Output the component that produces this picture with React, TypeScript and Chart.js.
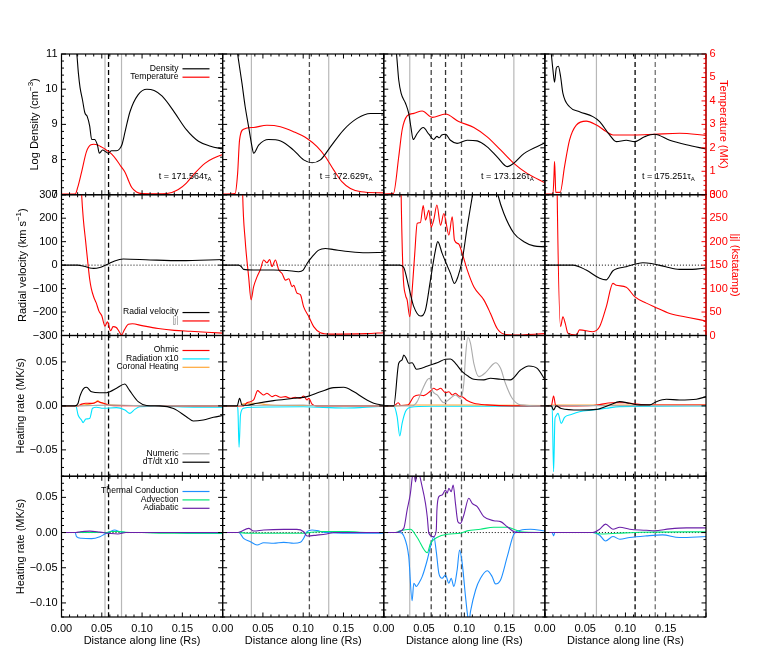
import React, { useEffect, useRef } from 'react';
import { Chart, registerables } from 'chart.js';

Chart.register(...registerables);

// ---------------- DATA ----------------
// x = distance along line (Rs), pairs [x, value]
const times = ['171.564', '172.629', '173.126', '175.251'];

// Row 1: log density (cm^-3) and temperature (MK)
const dens1 = [[0,12.5],[0.015,11.6],[0.019,11.0],[0.021,10.45],[0.023,10.05],[0.026,9.7],[0.029,9.33],[0.032,9.22],[0.035,8.95],[0.0375,8.57],[0.041,8.57],[0.0445,8.42],[0.047,8.18],[0.051,8.27],[0.055,8.22],[0.058,8.18],[0.062,8.25],[0.068,8.25],[0.072,8.3],[0.075,8.42],[0.079,8.8],[0.085,9.36],[0.095,9.84],[0.106,10.0],[0.115,9.96],[0.125,9.8],[0.14,9.35],[0.155,8.85],[0.17,8.52],[0.185,8.38],[0.2,8.3]];
const temp1 = [[0,0.03],[0.017,0.03],[0.02,0.3],[0.025,0.98],[0.031,1.84],[0.0365,2.13],[0.04,2.15],[0.045,2.12],[0.05,2.03],[0.056,1.9],[0.062,1.74],[0.068,1.5],[0.074,1.2],[0.079,0.95],[0.083,0.62],[0.087,0.32],[0.093,0.12],[0.1,0.05],[0.125,0.04],[0.137,0.1],[0.145,0.22],[0.155,0.5],[0.165,0.9],[0.178,1.34],[0.19,1.58],[0.2,1.72]];
const dens2 = [[0,13],[0.015,11.5],[0.0186,11.0],[0.024,10.17],[0.028,9.5],[0.0323,8.93],[0.0365,8.36],[0.0385,8.18],[0.0447,8.41],[0.057,8.57],[0.072,8.53],[0.088,8.27],[0.1006,7.99],[0.111,7.91],[0.1214,7.99],[0.1338,8.36],[0.15,8.84],[0.167,9.17],[0.1835,9.31],[0.2,9.31]];
const temp2 = [[0,0.03],[0.0155,0.05],[0.0186,0.9],[0.021,2.33],[0.026,2.79],[0.0385,2.87],[0.055,2.96],[0.0717,2.9],[0.088,2.69],[0.1048,2.4],[0.1172,2.05],[0.1276,1.62],[0.138,1.05],[0.148,0.56],[0.1586,0.27],[0.172,0.13],[0.2,0.08]];
const dens3 = [[0,13],[0.0158,11.0],[0.0186,10.26],[0.0216,9.88],[0.027,9.6],[0.031,9.31],[0.034,8.88],[0.0365,8.57],[0.0415,8.74],[0.049,8.91],[0.056,8.72],[0.062,8.57],[0.066,8.66],[0.069,8.62],[0.072,8.7],[0.0766,8.72],[0.0828,8.55],[0.091,8.46],[0.1035,8.55],[0.116,8.53],[0.1284,8.36],[0.141,8.07],[0.1533,7.8],[0.1615,7.9],[0.174,8.17],[0.2,8.47]];
const temp3 = [[0,0.03],[0.012,0.05],[0.0186,1.62],[0.0228,2.76],[0.029,3.36],[0.0373,3.47],[0.0477,3.57],[0.06,3.3],[0.0766,3.44],[0.093,3.12],[0.1118,2.87],[0.1284,2.47],[0.145,1.91],[0.1615,1.34],[0.178,0.91],[0.2,0.51]];
const dens4 = [[0,13],[0.008,11.0],[0.01,10.55],[0.012,10.2],[0.0142,10.6],[0.0167,10.65],[0.0195,10.36],[0.0224,9.88],[0.0306,9.5],[0.043,9.36],[0.0596,9.22],[0.068,9.08],[0.0803,8.7],[0.0886,8.51],[0.101,8.55],[0.1114,8.51],[0.1238,8.65],[0.136,8.72],[0.155,8.55],[0.1756,8.42],[0.2,8.3]];
const temp4 = [[0,0.03],[0.01,0.03],[0.0113,0.8],[0.012,1.41],[0.0128,0.8],[0.0135,0.1],[0.019,0.1],[0.0244,1.2],[0.0306,2.33],[0.039,2.97],[0.0513,3.14],[0.064,2.97],[0.0762,2.69],[0.0845,2.55],[0.1114,2.55],[0.136,2.58],[0.1673,2.62],[0.2,2.53]];

// Row 2: radial velocity (km/s) and |j| (kstatamp)
const vel1 = [[0,0],[0.02,0],[0.028,-5],[0.035,-12],[0.04,-14],[0.0476,-10],[0.053,-3],[0.058,5],[0.066,18],[0.0766,26],[0.11,22],[0.148,19],[0.2,24]];
const curr1 = [[0.0,900],[0.02,500],[0.025,300],[0.027,250],[0.03,200],[0.033,150],[0.035,120],[0.037,100],[0.04,82],[0.043,70],[0.0465,52],[0.05,42],[0.054,20],[0.057,29],[0.061,10],[0.064,19],[0.068,17],[0.071,10],[0.0745,1],[0.078,12],[0.083,24],[0.088,25],[0.1,21],[0.12,15],[0.14,11],[0.16,9],[0.18,7],[0.2,5]];
const vel2 = [[0,0],[0.02,0],[0.023,-6],[0.026,-18],[0.0385,-21],[0.0634,-21],[0.08,-23],[0.0944,-28],[0.1,-21],[0.1048,7],[0.111,35],[0.1193,64],[0.1276,71],[0.138,66],[0.1586,57],[0.178,53],[0.2,54]];
const curr2 = [[0.0,900],[0.02,800],[0.0249,300],[0.028,203],[0.0323,125],[0.0353,76],[0.0385,104],[0.0427,125],[0.0468,140],[0.051,161],[0.055,155],[0.0584,162],[0.0613,147],[0.0655,161],[0.0696,140],[0.0738,132],[0.078,118],[0.0821,121],[0.0862,104],[0.0882,107],[0.0924,90],[0.0965,87],[0.1006,61],[0.107,40],[0.113,19],[0.1214,6],[0.1338,3],[0.178,4],[0.2,6]];
const vel3 = [[0,0],[0.02,0],[0.0248,-10],[0.031,-92],[0.0373,-177],[0.0456,-217],[0.0518,-191],[0.058,-63],[0.0642,64],[0.067,100],[0.0725,50],[0.0766,15],[0.0828,-35],[0.0878,-78],[0.092,-50],[0.0974,21],[0.1036,163],[0.1098,291],[0.115,400],[0.125,450],[0.135,400],[0.1416,300],[0.149,221],[0.1615,136],[0.174,100],[0.1863,82],[0.2,78]];
const curr3 = [[0.0,900],[0.018,800],[0.0216,300],[0.024,132],[0.027,86],[0.029,76],[0.0323,40],[0.035,90],[0.0385,175],[0.0415,239],[0.0455,241],[0.049,277],[0.0518,246],[0.056,267],[0.0589,231],[0.062,246],[0.066,278],[0.0705,235],[0.0746,260],[0.0775,239],[0.0808,214],[0.085,253],[0.0878,203],[0.093,195],[0.0974,175],[0.1036,140],[0.1118,104],[0.1242,76],[0.1325,47],[0.1408,15],[0.149,3],[0.1615,1],[0.2,4]];
const vel4 = [[0,0],[0.0348,0],[0.0513,-21],[0.068,-56],[0.0762,-63],[0.0845,-24],[0.101,-7],[0.1217,10],[0.132,7],[0.15,-7],[0.167,-18],[0.183,-18],[0.2,-12]];
const curr4 = [[0.0,900],[0.012,900],[0.0153,300],[0.0195,19],[0.0224,40],[0.0253,26],[0.0286,5],[0.039,1],[0.043,12],[0.0596,8],[0.068,19],[0.0762,61],[0.0845,111],[0.0886,107],[0.101,103],[0.1114,83],[0.1259,69],[0.136,61],[0.155,47],[0.1797,38],[0.2,31]];

// Row 3: heating rates (MK/s)
const dtdt1 = [[0,0],[0.0165,0],[0.0206,0.003],[0.0227,0.0105],[0.0277,0.02],[0.031,0.0211],[0.0373,0.016],[0.0476,0.015],[0.056,0.015],[0.06,0.016],[0.0683,0.02],[0.0787,0.0249],[0.0827,0.02],[0.087,0.0143],[0.0952,0.0048],[0.1056,0.0005],[0.122,0],[0.139,-0.003],[0.155,-0.0123],[0.1635,-0.0172],[0.176,-0.016],[0.1886,-0.013],[0.2,-0.011]];
const rad1 = [[0,0],[0.0178,0],[0.0206,-0.0104],[0.0248,-0.016],[0.0268,-0.019],[0.0302,-0.015],[0.0352,-0.014],[0.0385,-0.0027],[0.0435,-0.0015],[0.0517,-0.0027],[0.0683,-0.002],[0.0787,-0.0047],[0.0849,-0.0085],[0.091,-0.004],[0.0973,-0.001],[0.12,-0.0003],[0.15,-0.0012],[0.2,-0.0015]];
const ohmic1 = [[0,0],[0.02,0],[0.025,0.002],[0.03,0.003],[0.035,0.0028],[0.04,0.003],[0.045,0.005],[0.048,0.004],[0.052,0.003],[0.058,0.001],[0.065,0.0003],[0.2,0]];
const coronal1 = [[0,0],[0.018,0],[0.025,0.001],[0.035,0.002],[0.042,0.004],[0.045,0.006],[0.048,0.004],[0.055,0.002],[0.065,0.0008],[0.08,0.0005],[0.2,0.0003]];
const numeric1 = [[0,0],[0.02,0],[0.04,0.0005],[0.06,0.0008],[0.09,0.0005],[0.2,0]];
const dtdt2 = [[0,0],[0.018,0],[0.0211,0.0086],[0.024,0.001],[0.0303,0.0007],[0.0427,0.003],[0.0634,0.006],[0.0882,0.0086],[0.1048,0.0105],[0.1214,0.016],[0.138,0.0207],[0.1503,0.0211],[0.163,0.016],[0.1755,0.0086],[0.1876,0.003],[0.2,0.0007]];
const rad2 = [[0,0],[0.018,0],[0.019,-0.005],[0.0204,-0.047],[0.0222,-0.01],[0.026,-0.0027],[0.0385,-0.0015],[0.1,-0.001],[0.15,-0.0025],[0.17,-0.002],[0.2,-0.0005]];
const ohmic2 = [[0,0],[0.026,0],[0.0303,0.0036],[0.0385,0.0067],[0.0435,0.0173],[0.0468,0.015],[0.051,0.0124],[0.055,0.0143],[0.0613,0.0105],[0.0655,0.012],[0.0717,0.0098],[0.078,0.0105],[0.084,0.0086],[0.09,0.0098],[0.0965,0.0086],[0.1006,0.0113],[0.1048,0.0067],[0.107,0.0086],[0.111,0.002],[0.117,0],[0.2,0]];
const coronal2 = [[0,0],[0.02,0],[0.025,0.002],[0.03,0.003],[0.04,0.003],[0.05,0.002],[0.06,0.001],[0.08,0.0005],[0.2,0.0003]];
const numeric2 = [[0,0],[0.03,0.0005],[0.1,0.001],[0.12,0],[0.2,0]];
const dtdt3 = [[0,0],[0.0124,0],[0.0186,0.0484],[0.0228,0.0522],[0.0248,0.0579],[0.0282,0.0533],[0.031,0.0484],[0.0352,0.049],[0.0406,0.0416],[0.0477,0.043],[0.056,0.046],[0.0663,0.049],[0.0766,0.053],[0.0828,0.0533],[0.089,0.0484],[0.0974,0.0389],[0.1056,0.0332],[0.1118,0.0302],[0.1242,0.0295],[0.1325,0.0314],[0.145,0.0302],[0.157,0.0295],[0.1698,0.0408],[0.18,0.0454],[0.1905,0.0427],[0.2,0.03]];
const numeric3 = [[0,0],[0.0352,0],[0.0415,0.0048],[0.0477,0.018],[0.054,0.0295],[0.0571,0.0314],[0.06,0.018],[0.0663,0.0124],[0.0746,0.0036],[0.0828,0.0086],[0.089,0.0124],[0.0952,0.0086],[0.0994,0.0257],[0.1015,0.0559],[0.1044,0.078],[0.1077,0.0711],[0.1118,0.0484],[0.118,0.0332],[0.1263,0.0378],[0.1346,0.0465],[0.1387,0.049],[0.145,0.0427],[0.151,0.0257],[0.1594,0.0086],[0.17,0.0011],[0.2,0]];
const ohmic3 = [[0,0],[0.0124,0],[0.018,0.0036],[0.021,0.0005],[0.03,0.001],[0.0373,0.0105],[0.0435,0.0124],[0.0497,0.0117],[0.058,0.0169],[0.062,0.02],[0.066,0.018],[0.0705,0.02],[0.0766,0.015],[0.0808,0.016],[0.085,0.0124],[0.089,0.0143],[0.093,0.0113],[0.0974,0.0105],[0.1036,0.006],[0.1118,0.003],[0.128,0.0011],[0.16,0],[0.2,0]];
const rad3 = [[0,0],[0.0124,0],[0.0166,-0.0123],[0.0199,-0.0342],[0.0228,-0.0199],[0.027,-0.0065],[0.0331,-0.0015],[0.06,-0.0005],[0.2,-0.0003]];
const coronal3 = [[0,0],[0.015,0],[0.03,0.001],[0.1,0.001],[0.2,0.0005]];
const dtdt4 = [[0,0],[0.008,0],[0.0108,-0.0047],[0.014,0],[0.0203,-0.003],[0.043,-0.0047],[0.0638,-0.004],[0.0803,0.001],[0.0928,0.0048],[0.1052,0.003],[0.1176,0.0011],[0.13,0.0011],[0.1384,0.0048],[0.1508,0.0075],[0.167,0.0067],[0.188,0.0075],[0.2,0.0105]];
const ohmic4 = [[0,0],[0.008,0],[0.0108,0.0113],[0.0135,0],[0.03,0],[0.06,0.0005],[0.084,0.0036],[0.1,0.0036],[0.11,0.0025],[0.13,0.001],[0.2,0.001]];
const rad4 = [[0,0],[0.009,0],[0.0108,-0.0748],[0.0125,-0.015],[0.0133,-0.0123],[0.0162,-0.0085],[0.0203,-0.0199],[0.0244,-0.013],[0.0327,-0.0097],[0.043,-0.0066],[0.0596,-0.0047],[0.0762,-0.0027],[0.093,-0.0008],[0.2,0]];
const coronal4 = [[0,0],[0.01,0.001],[0.05,0.001],[0.2,0.001]];
const numeric4 = [[0,0],[0.05,0.0003],[0.2,0.0003]];

// Row 4: heating rates (MK/s)
const cond1 = [[0,0],[0.017,0],[0.0186,-0.0059],[0.0248,-0.0082],[0.0373,-0.0087],[0.0476,-0.0059],[0.0538,-0.0021],[0.06,0.0012],[0.066,0.0036],[0.0724,0.0012],[0.08,0],[0.14,0],[0.16,-0.001],[0.2,-0.001]];
const adv1 = [[0,0],[0.055,0],[0.062,0.0015],[0.07,0.0015],[0.08,0.0005],[0.1,0],[0.14,-0.001],[0.2,-0.001]];
const adia1 = [[0,0],[0.018,0],[0.023,0.0012],[0.035,0.002],[0.0476,0.0006],[0.06,-0.0012],[0.07,-0.002],[0.08,0],[0.2,0]];
const cond2 = [[0,0],[0.0201,0],[0.026,-0.0082],[0.0345,-0.013],[0.0427,-0.0177],[0.051,-0.0145],[0.0634,-0.0153],[0.0758,-0.0139],[0.0882,-0.0153],[0.0965,-0.0139],[0.1006,-0.0082],[0.1048,0.0012],[0.111,0.0036],[0.117,0.0028],[0.1276,0],[0.158,-0.001],[0.2,-0.001]];
const adv2 = [[0,0],[0.02,0],[0.03,-0.001],[0.1,-0.001],[0.11,0.0005],[0.125,0.0015],[0.155,0.0015],[0.17,0.0005],[0.2,0]];
const adia2 = [[0,0],[0.018,0],[0.022,0.0012],[0.0323,0.006],[0.0385,0.0021],[0.051,0.0036],[0.0758,0.0045],[0.092,0.0045],[0.1006,0.0012],[0.1048,-0.0049],[0.117,-0.0036],[0.129,-0.002],[0.138,0],[0.2,0]];
const cond3 = [[0,0],[0.02,0],[0.0248,-0.0047],[0.031,-0.0343],[0.0352,-0.0968],[0.0373,-0.072],[0.0406,-0.0767],[0.0435,-0.072],[0.0477,-0.0627],[0.054,-0.039],[0.058,-0.0201],[0.0622,-0.0059],[0.0652,-0.027],[0.0684,-0.058],[0.0725,-0.065],[0.0766,-0.0603],[0.0808,-0.072],[0.0837,-0.065],[0.087,-0.0767],[0.0911,-0.0532],[0.0941,-0.0248],[0.0974,-0.0437],[0.1015,-0.091],[0.1044,-0.12],[0.106,-0.125],[0.1077,-0.112],[0.114,-0.0816],[0.1201,-0.065],[0.1284,-0.0542],[0.1346,-0.0627],[0.1387,-0.073],[0.145,-0.0674],[0.1533,-0.0343],[0.1615,-0.0024],[0.1698,0.0033],[0.182,0.0047],[0.2,0.0024]];
const adv3 = [[0,0],[0.015,0],[0.02,0.0024],[0.0331,0.0047],[0.0415,-0.007],[0.054,-0.0286],[0.058,-0.0154],[0.066,-0.007],[0.0787,-0.0024],[0.0952,-0.001],[0.1036,0.0024],[0.12,0.0047],[0.1367,0.0075],[0.1533,0.0075],[0.1615,0.0047],[0.17,0.001],[0.2,0]];
const adia3 = [[0,0],[0.014,0],[0.0248,0.006],[0.029,0.032],[0.0331,0.0558],[0.0352,0.077],[0.037,0.09],[0.0394,0.072],[0.042,0.088],[0.0477,0.065],[0.0518,0.0415],[0.054,0.0225],[0.056,-0.001],[0.062,-0.0059],[0.0652,0.0036],[0.066,0.032],[0.0684,0.051],[0.0725,0.0534],[0.0766,0.0605],[0.0787,0.0558],[0.0808,0.0629],[0.0837,0.0582],[0.0862,0.0676],[0.089,0.0415],[0.092,0.0155],[0.0952,0.013],[0.0994,0.0249],[0.1056,0.0487],[0.1098,0.0415],[0.116,0.0368],[0.1242,0.0225],[0.1367,0.0168],[0.145,0.0155],[0.1533,0.0083],[0.1615,0.0012],[0.166,0],[0.2,0]];
const cond4 = [[0,0],[0.009,0],[0.0108,-0.0047],[0.0125,0],[0.0596,0],[0.068,-0.0038],[0.0753,-0.012],[0.0845,-0.0057],[0.093,-0.0095],[0.1052,-0.007],[0.1259,-0.0047],[0.146,-0.0033],[0.167,-0.007],[0.2,-0.0057]];
const adv4 = [[0,0],[0.06,0],[0.07,-0.002],[0.09,-0.001],[0.12,0.0005],[0.2,0.001]];
const adia4 = [[0,0],[0.0596,0],[0.068,0.0047],[0.0753,0.012],[0.0845,0.0047],[0.093,0.0075],[0.1052,0.0047],[0.1259,0.0033],[0.136,0.0024],[0.155,0.0052],[0.1756,0.0066],[0.2,0.0066]];

// vertical reference lines per column (x in Rs)
const grayMarks = [[0.054, 0.0745], [0.0357, 0.1317], [0.0323, 0.1615], [0.064]];
const dashMarks = [[0.0584], [0.1077], [0.0589, 0.0767, 0.0965], [0.112, 0.137]];

// tick labels
const xTickLabels = [0, 0.05, 0.1, 0.15];
const densTicks = [7, 8, 9, 10, 11];
const velTicks = [-300, -200, -100, 0, 100, 200, 300];
const heat1Ticks = [-0.05, 0, 0.05];
const heat2Ticks = [-0.1, -0.05, 0, 0.05];
const tempTicks = [0, 1, 2, 3, 4, 5, 6];
const currTicks = [0, 50, 100, 150, 200, 250, 300];

// ---------------- STYLE / LAYOUT ----------------
const FIG_W = 768;
const FIG_H = 672;
const PLOT_L = 61.5;
const PLOT_R = 706;
const PLOT_T = 54;
const PLOT_B = 617;
const COL_W = (PLOT_R - PLOT_L) / 4;
const ROW_H = (PLOT_B - PLOT_T) / 4;
const FONT = '"Liberation Sans", Arial, Helvetica, sans-serif';
const LEG_FONT = 8.6;

const C_BLACK = '#000000';
const C_RED = '#ff0000';
const C_CYAN = '#00e4ff';
const C_ORANGE = '#ffa838';
const C_GRAYLINE = '#ababab';
const C_BLUE = '#1e8fff';
const C_GREEN = '#00e878';
const C_PURPLE = '#6a20a8';
const C_MARK = '#b8b8b8';
const dashShades = [['#000000'], ['#505050'], ['#454545', '#333333', '#555555'], ['#000000', '#707070']];

const yAxes = [
  { min: 7, max: 11, major: 1, minor: 0.2, labels: densTicks, dec: 0 },
  { min: -300, max: 300, major: 100, minor: 20, labels: velTicks, dec: 0 },
  { min: -0.08, max: 0.08, major: 0.05, minor: 0.01, labels: heat1Ticks, dec: 2 },
  { min: -0.12, max: 0.08, major: 0.05, minor: 0.01, labels: heat2Ticks, dec: 2 },
];
const y2Axes: any[] = [
  { min: 0, max: 6, major: 1, minor: 0.2, labels: tempTicks, dec: 0 },
  { min: 0, max: 300, major: 50, minor: 10, labels: currTicks, dec: 0 },
  null,
  null,
];

type Seg = { t: string; size: number; dy: number };
const leftTitles: Seg[][] = [
  [{ t: 'Log Density (cm', size: 11, dy: 0 }, { t: '\u22123', size: 8, dy: -4 }, { t: ')', size: 11, dy: 0 }],
  [{ t: 'Radial velocity (km s', size: 11, dy: 0 }, { t: '\u22121', size: 8, dy: -4 }, { t: ')', size: 11, dy: 0 }],
  [{ t: 'Heating rate (MK/s)', size: 11, dy: 0 }],
  [{ t: 'Heating rate (MK/s)', size: 11, dy: 0 }],
];
const leftTitleX = [35, 22.5, 20.5, 20.5];
const rightTitles = ['Temperature (MK)', '|j| (kstatamp)'];
const rightTitleX = [723.5, 735.5];

const legends = [
  [{ at: 14.3, items: [['Density', C_BLACK, C_BLACK], ['Temperature', C_RED, C_BLACK]] }],
  [{ at: 117.3, items: [['Radial velocity', C_BLACK, C_BLACK], ['|j|', C_RED, '#9a9a9a']] }],
  [
    { at: 14.5, items: [['Ohmic', C_RED, C_BLACK], ['Radiation x10', C_CYAN, C_BLACK], ['Coronal Heating', C_ORANGE, C_BLACK]] },
    { at: 117.8, items: [['Numeric', C_GRAYLINE, C_BLACK], ['dT/dt x10', C_BLACK, C_BLACK]] },
  ],
  [{ at: 14.75, items: [['Thermal Conduction', C_BLUE, C_BLACK], ['Advection', C_GREEN, C_BLACK], ['Adiabatic', C_PURPLE, C_BLACK]] }],
];

// ---------------- HELPERS ----------------
const toXY = (a: number[][]) => a.map(([x, y]) => ({ x, y }));

function stepsFor(min: number, max: number, step: number) {
  const out: number[] = [];
  const n0 = Math.ceil(min / step - 1e-6);
  const n1 = Math.floor(max / step + 1e-6);
  for (let i = n0; i <= n1; i++) out.push(i * step);
  return out;
}
const isMult = (v: number, s: number) => Math.abs(v / s - Math.round(v / s)) < 1e-6;
const fmt = (v: number, dec: number) => (v < -1e-12 ? '\u2212' : '') + Math.abs(v).toFixed(dec);

function drawSegs(ctx: CanvasRenderingContext2D, segs: Seg[], x: number, y: number, align: string) {
  let total = 0;
  const widths: number[] = [];
  for (const s of segs) {
    ctx.font = `${s.size}px ${FONT}`;
    const w = ctx.measureText(s.t).width;
    widths.push(w);
    total += w;
  }
  let cx = align === 'left' ? x : align === 'center' ? x - total / 2 : x - total;
  ctx.textAlign = 'left';
  ctx.textBaseline = 'middle';
  segs.forEach((s, i) => {
    ctx.font = `${s.size}px ${FONT}`;
    ctx.fillText(s.t, cx, y + s.dy);
    cx += widths[i];
  });
}

function drawYTicks(ctx: CanvasRenderingContext2D, scale: any, a: any, side: string, ax: any, color: string) {
  ctx.strokeStyle = color;
  ctx.lineWidth = 1;
  for (const v of stepsFor(ax.min, ax.max, ax.minor)) {
    const py = scale.getPixelForValue(v);
    const len = isMult(v, ax.major) ? 4.5 : 2.5;
    ctx.beginPath();
    if (side === 'left') {
      ctx.moveTo(a.left, py);
      ctx.lineTo(a.left + len, py);
    } else {
      ctx.moveTo(a.right, py);
      ctx.lineTo(a.right - len, py);
    }
    ctx.stroke();
  }
}

function makePanelPlugin(row: number, col: number) {
  return {
    id: 'panel',
    beforeDatasetsDraw(chart: any) {
      const { ctx, chartArea: a, scales } = chart;
      const xs = scales.x;
      const ys = scales.y;
      ctx.save();
      ctx.beginPath();
      ctx.rect(a.left, a.top, a.right - a.left, a.bottom - a.top);
      ctx.clip();
      ctx.lineWidth = 1.2;
      ctx.strokeStyle = C_MARK;
      ctx.setLineDash([]);
      for (const v of grayMarks[col]) {
        const px = xs.getPixelForValue(v);
        ctx.beginPath();
        ctx.moveTo(px, a.top);
        ctx.lineTo(px, a.bottom);
        ctx.stroke();
      }
      dashMarks[col].forEach((v, i) => {
        const px = xs.getPixelForValue(v);
        ctx.strokeStyle = dashShades[col][i];
        ctx.lineWidth = 1.3;
        ctx.setLineDash([5, 3]);
        ctx.beginPath();
        ctx.moveTo(px, a.top);
        ctx.lineTo(px, a.bottom);
        ctx.stroke();
      });
      if (row === 1 || row === 3) {
        const py = ys.getPixelForValue(0);
        ctx.strokeStyle = C_BLACK;
        ctx.lineWidth = 1;
        ctx.setLineDash([1, 2]);
        ctx.beginPath();
        ctx.moveTo(a.left, py);
        ctx.lineTo(a.right, py);
        ctx.stroke();
      }
      ctx.restore();
    },
    afterDraw(chart: any) {
      const { ctx, chartArea: a, scales } = chart;
      const xs = scales.x;
      const ys = scales.y;
      const ya = yAxes[row];
      const y2a = y2Axes[row];
      ctx.save();
      ctx.setLineDash([]);
      // x ticks
      ctx.strokeStyle = C_BLACK;
      ctx.lineWidth = 1;
      for (const v of stepsFor(0, 0.2, 0.01)) {
        const px = xs.getPixelForValue(v);
        const len = isMult(v, 0.05) ? 4.5 : 2.5;
        ctx.beginPath();
        ctx.moveTo(px, a.bottom);
        ctx.lineTo(px, a.bottom - len);
        ctx.moveTo(px, a.top);
        ctx.lineTo(px, a.top + len);
        ctx.stroke();
      }
      drawYTicks(ctx, ys, a, 'left', ya, C_BLACK);
      if (y2a) drawYTicks(ctx, scales.y2, a, 'right', y2a, col === 3 ? C_RED : C_BLACK);
      else drawYTicks(ctx, ys, a, 'right', ya, C_BLACK);
      // frame
      ctx.lineWidth = 1.2;
      ctx.strokeStyle = C_BLACK;
      ctx.strokeRect(a.left, a.top, a.right - a.left, a.bottom - a.top);
      if (col === 3 && y2a) {
        ctx.strokeStyle = C_RED;
        ctx.beginPath();
        ctx.moveTo(a.right, a.top);
        ctx.lineTo(a.right, a.bottom);
        ctx.stroke();
      }
      // left labels
      ctx.fillStyle = C_BLACK;
      if (col === 0) {
        ctx.font = `11px ${FONT}`;
        ctx.textAlign = 'right';
        ctx.textBaseline = 'middle';
        for (const v of ya.labels) ctx.fillText(fmt(v, ya.dec), a.left - 4, ys.getPixelForValue(v));
        ctx.save();
        ctx.translate(leftTitleX[row], (a.top + a.bottom) / 2);
        ctx.rotate(-Math.PI / 2);
        drawSegs(ctx, leftTitles[row], 0, 0, 'center');
        ctx.restore();
        // legend
        for (const block of legends[row]) {
          block.items.forEach((it: any, i: number) => {
            const y = a.top + block.at + i * 8.4;
            ctx.font = `${LEG_FONT}px ${FONT}`;
            ctx.fillStyle = it[2];
            ctx.textAlign = 'right';
            ctx.textBaseline = 'middle';
            ctx.fillText(it[0], a.left + 117, y);
            ctx.strokeStyle = it[1];
            ctx.lineWidth = 1.2;
            ctx.beginPath();
            ctx.moveTo(a.left + 121, y + 0.5);
            ctx.lineTo(a.left + 148, y + 0.5);
            ctx.stroke();
          });
        }
      }
      // right labels
      if (col === 3 && y2a) {
        const s2 = scales.y2;
        ctx.fillStyle = C_RED;
        ctx.font = `11px ${FONT}`;
        ctx.textAlign = 'left';
        ctx.textBaseline = 'middle';
        for (const v of y2a.labels) ctx.fillText(fmt(v, y2a.dec), a.right + 3.5, s2.getPixelForValue(v));
        ctx.save();
        ctx.translate(rightTitleX[row], (a.top + a.bottom) / 2);
        ctx.rotate(Math.PI / 2);
        ctx.textAlign = 'center';
        ctx.fillText(rightTitles[row], 0, 0);
        ctx.restore();
      }
      // bottom labels
      if (row === 3) {
        ctx.fillStyle = C_BLACK;
        ctx.font = `11px ${FONT}`;
        ctx.textAlign = 'center';
        ctx.textBaseline = 'middle';
        for (const v of xTickLabels) ctx.fillText(v.toFixed(2), xs.getPixelForValue(v), a.bottom + 11.5);
        ctx.fillText('Distance along line (Rs)', (a.left + a.right) / 2, a.bottom + 23.5);
      }
      // time label
      if (row === 0) {
        ctx.fillStyle = C_BLACK;
        drawSegs(ctx, [{ t: `t = ${times[col]}\u03c4`, size: 9, dy: 0 }, { t: 'A', size: 6, dy: 2.5 }], a.left + 150, a.top + 123, 'right');
      }
      ctx.restore();
    },
  };
}

const densAll = [dens1, dens2, dens3, dens4];
const tempAll = [temp1, temp2, temp3, temp4];
const velAll = [vel1, vel2, vel3, vel4];
const currAll = [curr1, curr2, curr3, curr4];
const dtdtAll = [dtdt1, dtdt2, dtdt3, dtdt4];
const numericAll = [numeric1, numeric2, numeric3, numeric4];
const ohmicAll = [ohmic1, ohmic2, ohmic3, ohmic4];
const coronalAll = [coronal1, coronal2, coronal3, coronal4];
const radAll = [rad1, rad2, rad3, rad4];
const condAll = [cond1, cond2, cond3, cond4];
const advAll = [adv1, adv2, adv3, adv4];
const adiaAll = [adia1, adia2, adia3, adia4];

function ds(data: number[][], color: string, axis = 'y') {
  return {
    data: toXY(data),
    borderColor: color,
    backgroundColor: color,
    borderWidth: 1.1,
    pointRadius: 0,
    fill: false,
    cubicInterpolationMode: 'monotone',
    yAxisID: axis,
  };
}

function datasetsFor(row: number, col: number) {
  if (row === 0) return [ds(densAll[col], C_BLACK), ds(tempAll[col], C_RED, 'y2')];
  if (row === 1) return [ds(velAll[col], C_BLACK), ds(currAll[col], C_RED, 'y2')];
  if (row === 2)
    return [
      ds(dtdtAll[col], C_BLACK),
      ds(numericAll[col], C_GRAYLINE),
      ds(ohmicAll[col], C_RED),
      ds(coronalAll[col], C_ORANGE),
      ds(radAll[col], C_CYAN),
    ];
  return [ds(adiaAll[col], C_PURPLE), ds(advAll[col], C_GREEN), ds(condAll[col], C_BLUE)];
}

function buildConfig(row: number, col: number): any {
  const left = PLOT_L + col * COL_W;
  const right = left + COL_W;
  const top = PLOT_T + row * ROW_H;
  const bottom = top + ROW_H;
  const ya = yAxes[row];
  const y2a = y2Axes[row];
  const scales: any = {
    x: { type: 'linear', min: 0, max: 0.2, display: false },
    y: { type: 'linear', min: ya.min, max: ya.max, display: false },
  };
  if (y2a) scales.y2 = { type: 'linear', position: 'right', min: y2a.min, max: y2a.max, display: false };
  return {
    type: 'line',
    data: { datasets: datasetsFor(row, col) },
    options: {
      responsive: false,
      animation: false,
      events: [],
      layout: { padding: { left, top, right: FIG_W - right, bottom: FIG_H - bottom } },
      plugins: { legend: { display: false }, title: { display: false }, tooltip: { enabled: false } },
      scales,
    },
    plugins: [makePanelPlugin(row, col)],
  };
}

function Panel({ row, col }: { row: number; col: number }) {
  const ref = useRef<HTMLCanvasElement>(null);
  useEffect(() => {
    const chart = new Chart(ref.current as HTMLCanvasElement, buildConfig(row, col));
    return () => chart.destroy();
  }, [row, col]);
  return (
    <canvas
      ref={ref}
      width={FIG_W}
      height={FIG_H}
      style={{ position: 'absolute', left: 0, top: 0, width: FIG_W, height: FIG_H }}
    />
  );
}

export default function App() {
  const panels: { row: number; col: number }[] = [];
  for (let r = 0; r < 4; r++) for (let c = 0; c < 4; c++) panels.push({ row: r, col: c });
  return (
    <div style={{ position: 'absolute', left: 0, top: 0, width: FIG_W, height: FIG_H, background: '#ffffff' }}>
      {panels.map((p) => (
        <Panel key={`${p.row}-${p.col}`} row={p.row} col={p.col} />
      ))}
    </div>
  );
}
